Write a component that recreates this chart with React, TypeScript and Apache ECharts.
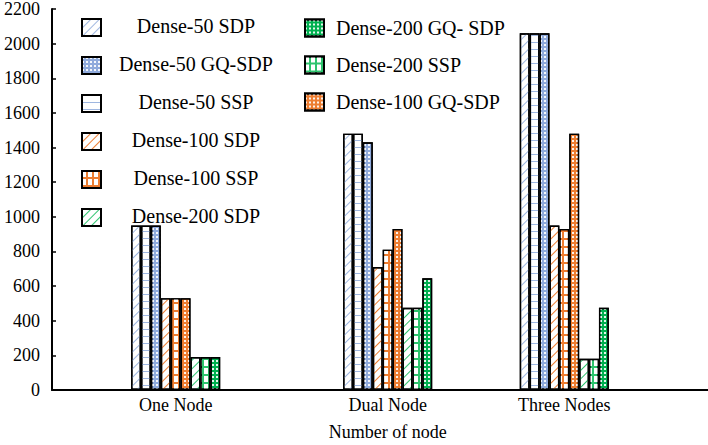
import React, { useEffect, useRef } from "react";
import * as echarts from "echarts";

const categories = ["One Node", "Dual Node", "Three Nodes"];
const seriesNames = [
  "Dense-50 SDP",
  "Dense-50 SSP",
  "Dense-50 GQ-SDP",
  "Dense-100 SDP",
  "Dense-100 SSP",
  "Dense-100 GQ-SDP",
  "Dense-200 SDP",
  "Dense-200 SSP",
  "Dense-200 GQ- SDP",
];
const dense50SDP = [950, 1480, 2060];
const dense50SSP = [950, 1480, 2060];
const dense50GQ = [950, 1430, 2060];
const dense100SDP = [530, 710, 950];
const dense100SSP = [530, 810, 930];
const dense100GQ = [530, 930, 1480];
const dense200SDP = [190, 475, 180];
const dense200SSP = [190, 475, 180];
const dense200GQ = [190, 645, 475];
const seriesValues = [
  dense50SDP, dense50SSP, dense50GQ,
  dense100SDP, dense100SSP, dense100GQ,
  dense200SDP, dense200SSP, dense200GQ,
];
const legendCol1 = [
  "Dense-50 SDP",
  "Dense-50 GQ-SDP",
  "Dense-50 SSP",
  "Dense-100 SDP",
  "Dense-100 SSP",
  "Dense-200 SDP",
];
const legendCol2 = ["Dense-200 GQ- SDP", "Dense-200 SSP", "Dense-100 GQ-SDP"];
const yTicks = { min: 0, max: 2200, interval: 200 };

// layout: categories sit in slots of a finer band grid (uneven spacing of the reference)
const SLOT_COUNT = 19;
const SLOTS = [3, 9, 14];

const BLUE = "#8FAADC";
const BLUE_LINE = "#9FB7E0";
const ORANGE = "#ED7D31";
const GREEN = "#00B050";
const GREEN_LINE = "#2EC46E";

const diag = (c: string) => ({
  symbol: "rect",
  symbolSize: 1,
  color: c,
  dashArrayX: [1, 0],
  dashArrayY: [1, 5],
  rotation: -Math.PI / 4,
});
const hlines = (c: string) => ({
  symbol: "rect",
  symbolSize: 1,
  color: c,
  dashArrayX: [1, 0],
  dashArrayY: [1, 6],
  rotation: 0,
});
const cells = () => ({
  symbol: "rect",
  symbolSize: 1,
  color: "#ffffff",
  dashArrayX: [3.8, 1.1],
  dashArrayY: [6, 1.1],
  rotation: 0,
});
const dots = () => ({
  symbol: "rect",
  symbolSize: 1,
  color: "rgba(255,255,255,0.9)",
  dashArrayX: [1.4, 1.4],
  dashArrayY: [1.4, 1.4],
  rotation: 0,
});

const styles = [
  { color: "#ffffff", decal: diag(BLUE_LINE) },
  { color: "#ffffff", decal: hlines(BLUE_LINE) },
  { color: BLUE, decal: dots() },
  { color: "#ffffff", decal: diag(ORANGE) },
  { color: ORANGE, decal: cells() },
  { color: ORANGE, decal: dots() },
  { color: "#ffffff", decal: diag(GREEN_LINE) },
  { color: GREEN_LINE, decal: cells() },
  { color: GREEN, decal: dots() },
];

export default function App() {
  const ref = useRef<HTMLDivElement>(null);
  useEffect(() => {
    if (!ref.current) return;
    const chart = echarts.init(ref.current, null, { renderer: "svg" });
    const slotLabels: string[] = [];
    for (let i = 0; i < SLOT_COUNT; i++) {
      const k = SLOTS.indexOf(i);
      slotLabels.push(k >= 0 ? categories[k] : "_" + i);
    }
    const font = "Liberation Serif";
    const series = seriesNames.map((name, si) => {
      const data: (number | null)[] = new Array(SLOT_COUNT).fill(null);
      SLOTS.forEach((s, ci) => {
        data[s] = seriesValues[si][ci];
      });
      return {
        type: "bar",
        name,
        data,
        barWidth: 9.9,
        barGap: "0%",
        itemStyle: {
          color: styles[si].color,
          decal: styles[si].decal,
          borderColor: "#000",
          borderWidth: 1.4,
        },
      };
    });
    const legendBase = {
      orient: "vertical",
      padding: 0,
      itemWidth: 19,
      itemHeight: 17,
      itemGap: 17,
      icon: "rect",
      itemStyle: { borderColor: "#000", borderWidth: 2 },
      selectedMode: false,
    };
    chart.setOption({
      animation: false,
      textStyle: { fontFamily: font },
      grid: {
        left: 52,
        top: 9,
        width: 671.3,
        height: 381,
        containLabel: false,
        outerBoundsMode: "none",
      },
      legend: [
        {
          ...legendBase,
          left: 81,
          top: 16,
          data: legendCol1,
          formatter: (n: string) => "{c|" + n + "}",
          textStyle: {
            fontFamily: font,
            fontSize: 20,
            color: "#000",
            rich: {
              c: { width: 180, align: "center", fontFamily: font, fontSize: 20, color: "#000", padding: [0, 0, 3, 0] },
            },
          },
        },
        {
          ...legendBase,
          left: 304,
          top: 18,
          data: legendCol2,
          formatter: (n: string) => "{c|" + n + "}",
          textStyle: {
            fontFamily: font,
            fontSize: 20,
            color: "#000",
            rich: {
              c: { padding: [0, 0, 0, 7], fontFamily: font, fontSize: 20, color: "#000" },
            },
          },
        },
      ],
      xAxis: {
        type: "category",
        data: slotLabels,
        name: "Number of node",
        nameLocation: "middle",
        nameGap: 33,
        nameTextStyle: { fontFamily: font, fontSize: 18, color: "#000" },
        axisLine: { show: true, lineStyle: { color: "#000", width: 2 } },
        axisTick: { show: false },
        splitLine: { show: false },
        axisLabel: {
          interval: 0,
          margin: 6,
          fontFamily: font,
          fontSize: 18,
          color: "#000",
          formatter: (v: string) => (v.charAt(0) === "_" ? "" : v),
        },
      },
      yAxis: {
        type: "value",
        min: yTicks.min,
        max: yTicks.max,
        interval: yTicks.interval,
        axisLine: { show: true, lineStyle: { color: "#000", width: 2 } },
        axisTick: { show: true, inside: true, length: 4, lineStyle: { color: "#000", width: 1.5 } },
        splitLine: { show: false },
        axisLabel: {
          margin: 12,
          fontFamily: font,
          fontSize: 18,
          color: "#000",
          formatter: (v: number) => String(v),
        },
      },
      series,
    });
    return () => chart.dispose();
  }, []);
  return (
    <div
      ref={ref}
      style={{ position: "absolute", left: 0, top: 0, width: 708, height: 445, background: "#fff" }}
    />
  );
}
